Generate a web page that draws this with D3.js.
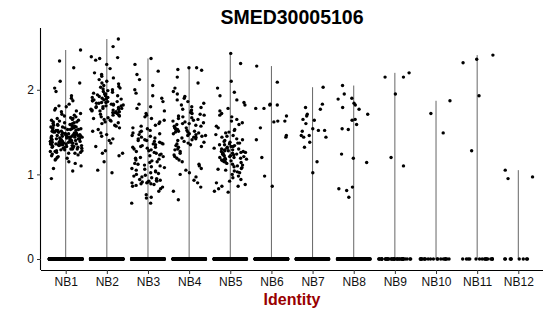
<!DOCTYPE html>
<html>
<head>
<meta charset="utf-8">
<script src="https://cdn.jsdelivr.net/npm/d3@7"></script>
<style>
  body { margin: 0; background: #fff; }
  svg text { font-family: "Liberation Sans", Arial, sans-serif; }
</style>
</head>
<body>
<svg id="chart" width="550" height="316"></svg>
<script>
// Cluster names (x axis)
const identities = ["NB1", "NB2", "NB3", "NB4", "NB5", "NB6", "NB7", "NB8", "NB9", "NB10", "NB11", "NB12"];

// How many cells sit at zero expression in each cluster
const zeroCounts = [600, 500, 420, 400, 360, 300, 260, 220, 40, 20, 16, 9];

// Non-zero expression values
const nb1 = [2.47, 2.34, 2.26, 2.10, 2.08, 2.02, 1.98, 1.93, 1.90, 1.87, 1.83, 1.81, 1.80, 1.78, 1.76, 1.75, 1.74, 1.72, 1.71, 1.70,
  1.69, 1.68, 1.67, 1.66, 1.66, 1.65, 1.64, 1.64, 1.63, 1.62, 1.62, 1.61, 1.61, 1.60, 1.60, 1.59, 1.59, 1.58, 1.58, 1.57,
  1.57, 1.56, 1.56, 1.56, 1.55, 1.55, 1.55, 1.54, 1.54, 1.54, 1.53, 1.53, 1.53, 1.52, 1.52, 1.52, 1.51, 1.51, 1.51, 1.50,
  1.50, 1.50, 1.50, 1.49, 1.49, 1.49, 1.48, 1.48, 1.48, 1.48, 1.47, 1.47, 1.47, 1.47, 1.46, 1.46, 1.46, 1.46, 1.45, 1.45,
  1.45, 1.45, 1.44, 1.44, 1.44, 1.44, 1.43, 1.43, 1.43, 1.43, 1.42, 1.42, 1.42, 1.42, 1.41, 1.41, 1.41, 1.41, 1.40, 1.40,
  1.40, 1.40, 1.39, 1.39, 1.39, 1.39, 1.38, 1.38, 1.38, 1.38, 1.37, 1.37, 1.37, 1.37, 1.36, 1.36, 1.36, 1.36, 1.35, 1.35,
  1.35, 1.35, 1.34, 1.34, 1.34, 1.33, 1.33, 1.33, 1.32, 1.32, 1.32, 1.31, 1.31, 1.31, 1.30, 1.30, 1.30, 1.29, 1.29, 1.28,
  1.28, 1.27, 1.27, 1.26, 1.26, 1.25, 1.25, 1.24, 1.23, 1.22, 1.21, 1.20, 1.19, 1.18, 1.17, 1.15, 1.13, 1.10, 1.07, 1.04, 0.95];
const nb2 = [2.60, 2.51, 2.39, 2.38, 2.37, 2.35, 2.30, 2.25, 2.20, 2.18, 2.16, 2.14, 2.12, 2.10, 2.08, 2.07, 2.05, 2.04, 2.03, 2.02,
  2.01, 2.00, 1.99, 1.98, 1.97, 1.96, 1.95, 1.95, 1.94, 1.93, 1.93, 1.92, 1.91, 1.91, 1.90, 1.90, 1.89, 1.89, 1.88, 1.88,
  1.87, 1.87, 1.86, 1.86, 1.85, 1.85, 1.84, 1.84, 1.83, 1.83, 1.82, 1.82, 1.81, 1.81, 1.80, 1.80, 1.79, 1.79, 1.78, 1.78,
  1.77, 1.77, 1.76, 1.76, 1.75, 1.75, 1.74, 1.74, 1.73, 1.73, 1.72, 1.71, 1.70, 1.70, 1.69, 1.68, 1.67, 1.66, 1.65, 1.64,
  1.63, 1.62, 1.61, 1.60, 1.58, 1.57, 1.55, 1.53, 1.51, 1.49, 1.47, 1.45, 1.42, 1.40, 1.37, 1.33, 1.28, 1.25, 1.25, 1.22,
  1.15, 1.05, 1.02];
const nb3 = [2.37, 2.30, 2.22, 2.18, 2.12, 2.05, 2.00, 1.96, 1.93, 1.90, 1.86, 1.83, 1.80, 1.78, 1.75, 1.72, 1.70, 1.68, 1.66, 1.64,
  1.62, 1.60, 1.58, 1.57, 1.55, 1.54, 1.52, 1.51, 1.50, 1.49, 1.48, 1.47, 1.46, 1.45, 1.44, 1.43, 1.42, 1.41, 1.40, 1.40,
  1.39, 1.38, 1.37, 1.36, 1.36, 1.35, 1.34, 1.33, 1.32, 1.32, 1.31, 1.30, 1.29, 1.28, 1.27, 1.26, 1.25, 1.24, 1.23, 1.22,
  1.21, 1.20, 1.19, 1.18, 1.17, 1.16, 1.15, 1.14, 1.13, 1.12, 1.11, 1.10, 1.09, 1.08, 1.07, 1.06, 1.05, 1.04, 1.03, 1.02,
  1.01, 1.00, 0.99, 0.98, 0.97, 0.96, 0.95, 0.94, 0.93, 0.93, 0.92, 0.92, 0.91, 0.91, 0.90, 0.90, 0.89, 0.89, 0.88, 0.87,
  0.86, 0.85, 0.83, 0.80, 0.76, 0.73, 0.72, 0.66, 0.66];
const nb4 = [2.26, 2.26, 2.24, 2.23, 2.15, 2.08, 2.02, 1.98, 1.95, 1.92, 1.90, 1.88, 1.86, 1.84, 1.82, 1.80, 1.79, 1.77, 1.76, 1.75,
  1.73, 1.72, 1.71, 1.70, 1.69, 1.68, 1.67, 1.66, 1.65, 1.64, 1.63, 1.62, 1.61, 1.60, 1.60, 1.59, 1.58, 1.57, 1.57, 1.56,
  1.55, 1.55, 1.54, 1.53, 1.53, 1.52, 1.51, 1.51, 1.50, 1.50, 1.49, 1.48, 1.48, 1.47, 1.46, 1.46, 1.45, 1.44, 1.44, 1.43,
  1.42, 1.41, 1.40, 1.39, 1.38, 1.37, 1.36, 1.35, 1.34, 1.33, 1.32, 1.30, 1.29, 1.27, 1.25, 1.23, 1.21, 1.19, 1.17, 1.15,
  1.12, 1.10, 1.07, 1.05, 1.02, 1.00, 0.97, 0.93, 0.90, 0.85, 0.80, 0.70];
const nb5 = [2.43, 2.31, 2.10, 2.02, 1.97, 1.93, 1.88, 1.85, 1.82, 1.78, 1.75, 1.72, 1.70, 1.68, 1.65, 1.63, 1.61, 1.59, 1.57, 1.55,
  1.53, 1.52, 1.50, 1.49, 1.47, 1.46, 1.45, 1.44, 1.42, 1.41, 1.40, 1.39, 1.38, 1.37, 1.37, 1.36, 1.35, 1.35, 1.34, 1.33,
  1.33, 1.32, 1.31, 1.31, 1.30, 1.30, 1.29, 1.29, 1.28, 1.28, 1.27, 1.27, 1.26, 1.26, 1.25, 1.25, 1.24, 1.24, 1.23, 1.23,
  1.22, 1.22, 1.21, 1.21, 1.20, 1.20, 1.19, 1.19, 1.18, 1.18, 1.17, 1.17, 1.16, 1.16, 1.15, 1.15, 1.14, 1.13, 1.12, 1.11,
  1.10, 1.09, 1.08, 1.07, 1.06, 1.05, 1.04, 1.03, 1.02, 1.00, 0.98, 0.96, 0.94, 0.92, 0.90, 0.88, 0.86, 0.86, 0.83, 0.80, 0.79];
const nb6 = [2.28, 2.09, 1.83, 1.82, 1.82, 1.78, 1.78, 1.69, 1.63, 1.63, 1.62, 1.55, 1.46, 1.44, 1.41, 1.20, 0.98, 0.86];
const nb7 = [2.03, 1.83, 1.79, 1.77, 1.71, 1.69, 1.65, 1.64, 1.60, 1.54, 1.52, 1.52, 1.51, 1.46, 1.46, 1.44, 1.44, 1.38, 1.32, 1.15, 1.02];
const nb8 = [2.05, 1.95, 1.90, 1.89, 1.84, 1.82, 1.79, 1.77, 1.71, 1.65, 1.64, 1.59, 1.54, 1.53, 1.24, 1.19, 1.14, 0.85, 0.83, 0.81, 0.73];
const nb9 = [2.20, 2.15, 2.15, 1.95, 1.20, 1.10];
const nb10 = [1.87, 1.72, 1.49];
const nb11 = [2.41, 2.36, 2.32, 1.93, 1.28];
const nb12 = [1.05, 0.97, 0.95];

const nonZero = [nb1, nb2, nb3, nb4, nb5, nb6, nb7, nb8, nb9, nb10, nb11, nb12];
const yTicks = [0, 1, 2];

const svg = d3.select("#chart");
const margin = { top: 28, right: 7, bottom: 46, left: 41 };
const width = 550 - margin.left - margin.right;
const height = 316 - margin.top - margin.bottom;

const g = svg.append("g").attr("transform", `translate(${margin.left},${margin.top})`);

const maxVal = d3.max(nonZero, arr => d3.max(arr));
const pad = maxVal * 0.05;

const x = d3.scalePoint().domain(identities).range([0, width]).padding(0.6);
const y = d3.scaleLinear().domain([-pad, maxVal + pad]).range([height, 0]);

// per-cluster records: every cell, zeros first
const groups = identities.map((name, i) => {
    const vals = d3.range(zeroCounts[i]).map(() => 0).concat(nonZero[i]);
    return { name, vals, max: d3.max(vals) };
});

// deterministic jitter (horizontal only, like geom_jitter(height = 0))
function jitter(gi, k) {
    const s = Math.sin(k * 12.9898 + gi * 78.233 + 1.7) * 43758.5453;
    return (s - Math.floor(s)) * 2 - 1;
}
const jw = x.step() * 0.4;

// violins collapse to thin lines because of the zero spike
g.selectAll(".violin")
    .data(groups)
    .join("line")
    .attr("class", "violin")
    .attr("x1", d => x(d.name))
    .attr("x2", d => x(d.name))
    .attr("y1", y(0))
    .attr("y2", d => y(d.max))
    .attr("stroke", "#666")
    .attr("stroke-width", 1);

// points
groups.forEach((grp, gi) => {
    g.append("g")
        .selectAll("circle")
        .data(grp.vals)
        .join("circle")
        .attr("cx", (v, k) => x(grp.name) + jitter(gi, k) * jw)
        .attr("cy", v => y(v))
        .attr("r", 1.7)
        .attr("fill", "#000");
});

// axes
const xAxis = g.append("g")
    .attr("transform", `translate(0,${height})`)
    .call(d3.axisBottom(x).tickSize(4).tickPadding(3));
const yAxis = g.append("g")
    .call(d3.axisLeft(y).tickValues(yTicks).tickFormat(d3.format("d")).tickSize(4).tickPadding(3));

[xAxis, yAxis].forEach(ax => {
    ax.select(".domain").attr("stroke", "#000").attr("stroke-width", 1.1);
    ax.selectAll(".tick line").attr("stroke", "#333");
    ax.selectAll(".tick text").attr("fill", "#111").style("font-size", "12px");
});
// ggplot axis lines have no end caps
xAxis.select(".domain").attr("d", `M0,0.5H${width}`);
yAxis.select(".domain").attr("d", `M-0.5,0V${height}`);

// title and x label
svg.append("text")
    .attr("x", margin.left + width / 2)
    .attr("y", 24)
    .attr("text-anchor", "middle")
    .style("font-size", "19.5px")
    .style("font-weight", "bold")
    .attr("fill", "#000")
    .text("SMED30005106");

svg.append("text")
    .attr("x", margin.left + width / 2)
    .attr("y", 305)
    .attr("text-anchor", "middle")
    .style("font-size", "16px")
    .style("font-weight", "bold")
    .attr("fill", "#990000")
    .text("Identity");
</script>
</body>
</html>
